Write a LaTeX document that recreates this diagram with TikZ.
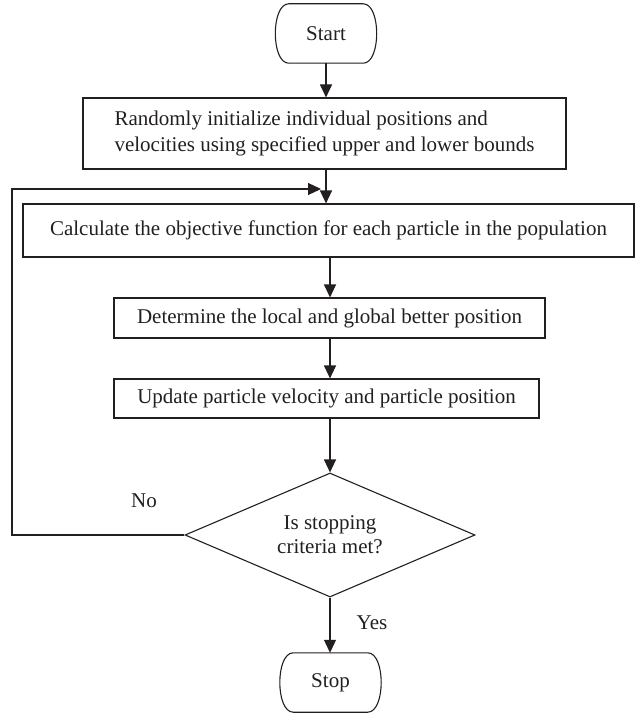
\documentclass[tikz,border=0pt]{standalone}
\usepackage{fontspec}
\setmainfont{Liberation Serif}
\usetikzlibrary{shapes.geometric,arrows.meta}
\definecolor{ink}{HTML}{231F20}
% outline of a start/stop terminal: flat top and bottom, bulging sides
\newcommand{\termframe}[1]{%
  \draw[base] ([xshift=14pt]#1.north west) -- ([xshift=-14pt]#1.north east)
    .. controls ([xshift=4pt]#1.north east) and ([xshift=4pt]#1.south east)
    .. ([xshift=-14pt]#1.south east) -- ([xshift=14pt]#1.south west)
    .. controls ([xshift=-4pt]#1.south west) and ([xshift=-4pt]#1.north west)
    .. cycle;}
\begin{document}
\begin{tikzpicture}[x=1pt,y=-1pt,
  font=\fontsize{21}{26}\selectfont,
  every node/.style={text=ink},
  base/.style={draw=ink, line width=1.1pt, inner sep=0pt},
  terminal/.style={rectangle, inner sep=0pt, minimum width=102pt, minimum height=59pt},
  process/.style={base, rectangle},
  decision/.style={base, diamond, shape aspect=2.34, minimum width=290pt,
    minimum height=124pt, align=center},
  arr/.style={draw=ink, line width=1.1pt, -{Triangle[length=13pt,width=12pt]}},
  lbl/.style={inner sep=0pt}
]
\useasboundingbox (0,0) rectangle (635,714);

% flowchart nodes
\node[terminal] (start) at (326,33.5) {Start};
\node[process, minimum width=483pt, minimum height=71pt, align=left]
  (init) at (324.5,133.5)
  {Randomly initialize individual positions and\\velocities using specified upper and lower bounds};
\node[process, minimum width=611pt, minimum height=53pt] (calc) at (328.5,230.5)
  {Calculate the objective function for each particle in the population};
\node[process, minimum width=431pt, minimum height=40pt] (det) at (329.5,318)
  {Determine the local and global better position};
\node[process, minimum width=425pt, minimum height=39pt] (upd) at (326.5,398.5)
  {Update particle velocity and particle position};
\node[decision, font=\fontsize{21}{24}\selectfont] (dec) at (330,535) {Is stopping\\criteria met?};
\node[terminal] (stop) at (330.5,682.5) {Stop};
\termframe{start}
\termframe{stop}

% return path of the loop
\coordinate (loopL) at (12,189);
\coordinate (looptip) at (321,189);

% connectors
\draw[arr] (start.south) -- (start.south |- init.north);
\draw[arr] (start.south |- init.south) -- (start.south |- calc.north);
\draw[arr] (dec.north |- calc.south) -- (dec.north |- det.north);
\draw[arr] (dec.north |- det.south) -- (dec.north |- upd.north);
\draw[arr] (dec.north |- upd.south) -- (dec.north);
\draw[arr] (dec.south) -- (dec.south |- stop.north);
\draw[arr] (dec.west) -- (dec.west -| loopL) -- (loopL) -- (looptip);

% branch labels
\node[lbl] (no) at (144,501) {No};
\node[lbl] (yes) at (372,623) {Yes};
\end{tikzpicture}
\end{document}
